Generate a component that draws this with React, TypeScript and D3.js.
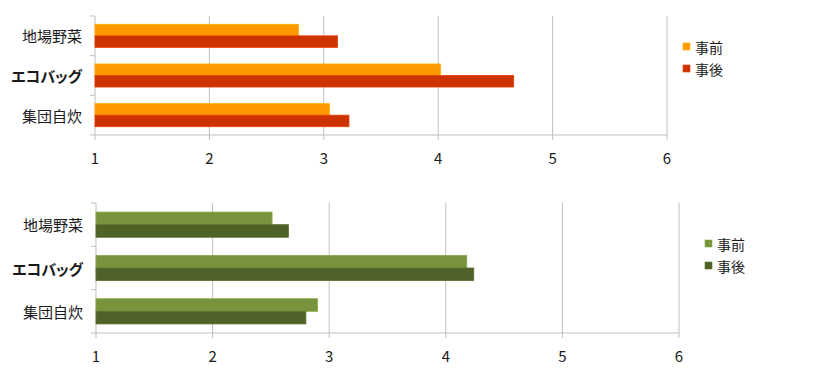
import * as d3 from 'd3';

const categories = ['地場野菜', 'エコバッグ', '集団自炊'];
const seriesNames = ['事前', '事後'];
const ticks = [1, 2, 3, 4, 5, 6];

// upper chart
const topBefore = [2.78, 4.02, 3.05];
const topAfter = [3.12, 4.66, 3.22];
// lower chart
const bottomBefore = [2.51, 4.18, 2.9];
const bottomAfter = [2.65, 4.24, 2.8];

const FONT = '"Noto Sans CJK JP", "Noto Sans", sans-serif';

interface PanelProps {
  before: number[];
  after: number[];
  colors: string[];
  x0: number;
  x1: number;
  yTop: number;
  yBot: number;
  legendX: number;
  legendY: number;
}

const Panel = ({ before, after, colors, x0, x1, yTop, yBot, legendX, legendY }: PanelProps) => {
  const x = d3.scaleLinear().domain([1, 6]).range([x0, x1]);
  const y = d3.scaleBand<string>().domain(categories).range([yTop, yBot]);
  const inner = d3.scaleBand<string>()
    .domain(seriesNames)
    .range([0, y.bandwidth()])
    .paddingOuter(0.72);
  const values = [before, after];
  const grid = '#bfbfbf';

  return (
    <g>
      {/* gridlines + tick marks */}
      {ticks.map(t => (
        <line key={'g' + t} x1={x(t)} x2={x(t)} y1={yTop} y2={yBot + 5}
          stroke={grid} strokeWidth={1} />
      ))}
      <line x1={x0} x2={x1} y1={yBot} y2={yBot} stroke={grid} strokeWidth={1} />
      {[yTop, ...categories.map(c => (y(c) as number) + y.bandwidth())].map((v, i) => (
        <line key={'t' + i} x1={x0 - 5} x2={x0} y1={v} y2={v} stroke={grid} strokeWidth={1} />
      ))}

      {/* bars */}
      {values.map((vals, si) => categories.map((c, ci) => (
        <rect key={si + '-' + c}
          x={x0}
          y={(y(c) as number) + (inner(seriesNames[si]) as number)}
          width={x(vals[ci]) - x0}
          height={inner.bandwidth()}
          fill={colors[si]}
          stroke={d3.color(colors[si])!.brighter(0.4).toString()}
          strokeWidth={0.8} />
      )))}

      {/* category labels */}
      {categories.map(c => (
        <text key={'l' + c} x={x0 - 13} y={(y(c) as number) + y.bandwidth() / 2}
          textAnchor="end" dominantBaseline="central" fontSize={15}
          fontWeight={c === 'エコバッグ' ? 'bold' : 'normal'}
          style={{ fontFeatureSettings: '"palt"' }}
          fill="#1a1a1a" fontFamily={FONT}>{c}</text>
      ))}

      {/* x tick labels */}
      {ticks.map(t => (
        <text key={'x' + t} x={x(t)} y={yBot + 29} textAnchor="middle" fontSize={15}
          fill="#1a1a1a" fontFamily={FONT}>{t}</text>
      ))}

      {/* legend */}
      {seriesNames.map((s, i) => (
        <g key={'lg' + s} transform={`translate(${legendX},${legendY + i * 22})`}>
          <rect x={0} y={0} width={7} height={7} fill={colors[i]}
            stroke={d3.color(colors[i])!.brighter(0.4).toString()} strokeWidth={0.6} />
          <text x={12} y={4} dominantBaseline="central" fontSize={14}
            fill="#1a1a1a" fontFamily={FONT}>{s}</text>
        </g>
      ))}
    </g>
  );
};

export default function App() {
  return (
    <svg width={819} height={373}
      style={{ position: 'absolute', left: 0, top: 0, background: '#fff' }}>
      <rect width={819} height={373} fill="#fff" />
      <Panel before={topBefore} after={topAfter} colors={['#ff9900', '#cc3300']}
        x0={95} x1={667} yTop={16} yBot={135} legendX={683} legendY={43} />
      <Panel before={bottomBefore} after={bottomAfter} colors={['#77933c', '#4f6228']}
        x0={96} x1={679} yTop={203} yBot={333} legendX={705} legendY={240} />
    </svg>
  );
}
